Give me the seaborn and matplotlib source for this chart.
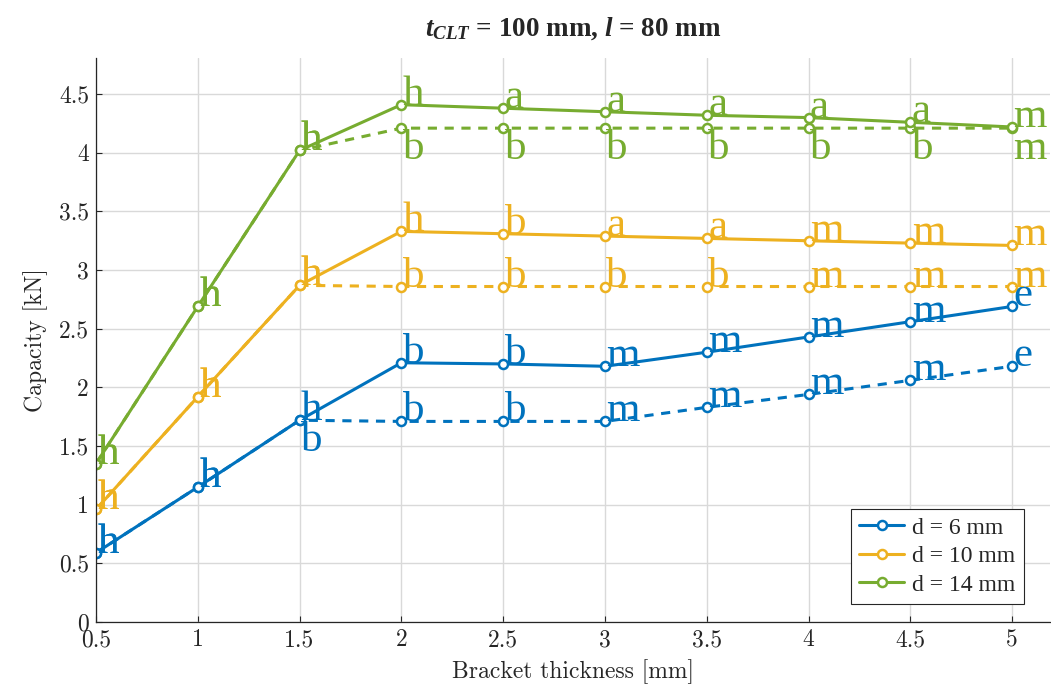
import numpy as np
import pandas as pd
import matplotlib
matplotlib.use('Agg')
import matplotlib.pyplot as plt
import seaborn as sns

# Données
thickness = [0.5, 1, 1.5, 2, 2.5, 3, 3.5, 4, 4.5, 5]

cap_d6 = [0.59, 1.15, 1.72, 2.21, 2.20, 2.18, 2.30, 2.43, 2.56, 2.69]
cap_d6_dash = [0.59, 1.15, 1.72, 1.71, 1.71, 1.71, 1.83, 1.94, 2.06, 2.18]
cap_d10 = [0.96, 1.92, 2.87, 3.33, 3.31, 3.29, 3.27, 3.25, 3.23, 3.21]
cap_d10_dash = [0.96, 1.92, 2.87, 2.86, 2.86, 2.86, 2.86, 2.86, 2.86, 2.86]
cap_d14 = [1.35, 2.69, 4.02, 4.41, 4.38, 4.35, 4.32, 4.30, 4.26, 4.22]
cap_d14_dash = [1.35, 2.69, 4.02, 4.21, 4.21, 4.21, 4.21, 4.21, 4.21, 4.21]

lab_d6 = ['h', 'h', 'h', 'b', 'b', 'm', 'm', 'm', 'm', 'e']
lab_d6_dash = ['h', 'h', 'b', 'b', 'b', 'm', 'm', 'm', 'm', 'e']
lab_d10 = ['h', 'h', 'h', 'h', 'b', 'a', 'a', 'm', 'm', 'm']
lab_d10_dash = ['h', 'h', 'h', 'b', 'b', 'b', 'b', 'm', 'm', 'm']
lab_d14 = ['h', 'h', 'h', 'h', 'a', 'a', 'a', 'a', 'a', 'm']
lab_d14_dash = ['h', 'h', 'h', 'b', 'b', 'b', 'b', 'b', 'b', 'm']

# position des lettres : au-dessus (u) ou en dessous (d) du point
pos_d6_dash = ['u', 'u', 'd', 'u', 'u', 'u', 'u', 'u', 'u', 'u']
pos_d14_dash = ['u', 'u', 'u', 'd', 'd', 'd', 'd', 'd', 'd', 'd']
pos_up = ['u'] * 10

legend_labels = ['d = 6 mm', 'd = 10 mm', 'd = 14 mm']
colors = ['#0072BD', '#EDB120', '#77AC30']

series = [
    (cap_d6, lab_d6, pos_up, cap_d6_dash, lab_d6_dash, pos_d6_dash),
    (cap_d10, lab_d10, pos_up, cap_d10_dash, lab_d10_dash, pos_up),
    (cap_d14, lab_d14, pos_up, cap_d14_dash, lab_d14_dash, pos_d14_dash),
]

sns.set_theme(style='whitegrid')
plt.rcParams['font.family'] = ['Liberation Serif', 'DejaVu Serif']
plt.rcParams['mathtext.fontset'] = 'custom'
plt.rcParams['mathtext.it'] = 'Liberation Serif:italic:bold'
plt.rcParams['mathtext.rm'] = 'Liberation Serif:bold'
plt.rcParams['mathtext.bf'] = 'Liberation Serif:bold'
plt.rcParams['axes.formatter.use_mathtext'] = True

fig = plt.figure(figsize=(10.51, 6.88), dpi=100)
ax = fig.add_axes([96 / 1051, 66 / 688, 954 / 1051, 564 / 688])

def draw_labels(vals, labs, pos, c):
    for x, y, t, p in zip(thickness, vals, labs, pos):
        if p == 'u':
            ax.annotate(t, (x, y), xytext=(1, 0), textcoords='offset points',
                        ha='left', va='baseline', color=c, fontsize=31)
        else:
            ax.annotate(t, (x, y), xytext=(1, -1), textcoords='offset points',
                        ha='left', va='top', color=c, fontsize=31)

for (sol, lsol, psol, dash, ldash, pdash), c, name in zip(series, colors, legend_labels):
    sns.lineplot(x=thickness, y=dash, ax=ax, color=c, lw=2.2, dashes=False,
                 linestyle=(0, (3, 2.5)), marker='o', ms=6.5, mfc='white', mec=c,
                 mew=1.8, label='_nolegend_')
    sns.lineplot(x=thickness, y=sol, ax=ax, color=c, lw=2.2, marker='o', ms=6.5,
                 mfc='white', mec=c, mew=1.8, label=name)
    draw_labels(sol, lsol, psol, c)
    draw_labels(dash, ldash, pdash, c)

ax.set_xlim(0.5, 5.186)
ax.set_ylim(0, 4.808)
ax.set_xticks(thickness)
ax.set_xticklabels(['0.5', '1', '1.5', '2', '2.5', '3', '3.5', '4', '4.5', '5'])
ax.set_yticks(np.arange(0, 4.6, 0.5))
ax.set_yticklabels(['0', '0.5', '1', '1.5', '2', '2.5', '3', '3.5', '4', '4.5'])
for lbl in ax.get_xticklabels() + ax.get_yticklabels():
    lbl.set_family('cmr10')
    lbl.set_fontsize(17)
ax.tick_params(direction='in', length=4, width=0.8, color='#262626',
               pad=5, bottom=True, left=True)

ax.grid(True, color='#d9d9d9', lw=1)
ax.set_facecolor('white')
for s in ['top', 'right']:
    ax.spines[s].set_visible(False)
for s in ['left', 'bottom']:
    ax.spines[s].set_color('#262626')
    ax.spines[s].set_linewidth(0.9)

ax.set_xlabel('Bracket thickness [mm]', family='cmr10', fontsize=17, labelpad=6)
ax.set_ylabel('Capacity [kN]', family='cmr10', fontsize=17, labelpad=8)
ax.set_title(r'$t_{CLT}$ = 100 mm, $l$ = 80 mm', fontweight='bold', fontsize=19.5, pad=16)

leg = ax.legend(loc='lower right', bbox_to_anchor=(0.9727, 0.0319), borderaxespad=0,
                fontsize=17, fancybox=False, framealpha=1, edgecolor='#262626',
                handlelength=1.9, handletextpad=0.35, borderpad=0.35, labelspacing=0.3)
leg.get_frame().set_linewidth(0.8)

plt.savefig('out.png', dpi=100)
